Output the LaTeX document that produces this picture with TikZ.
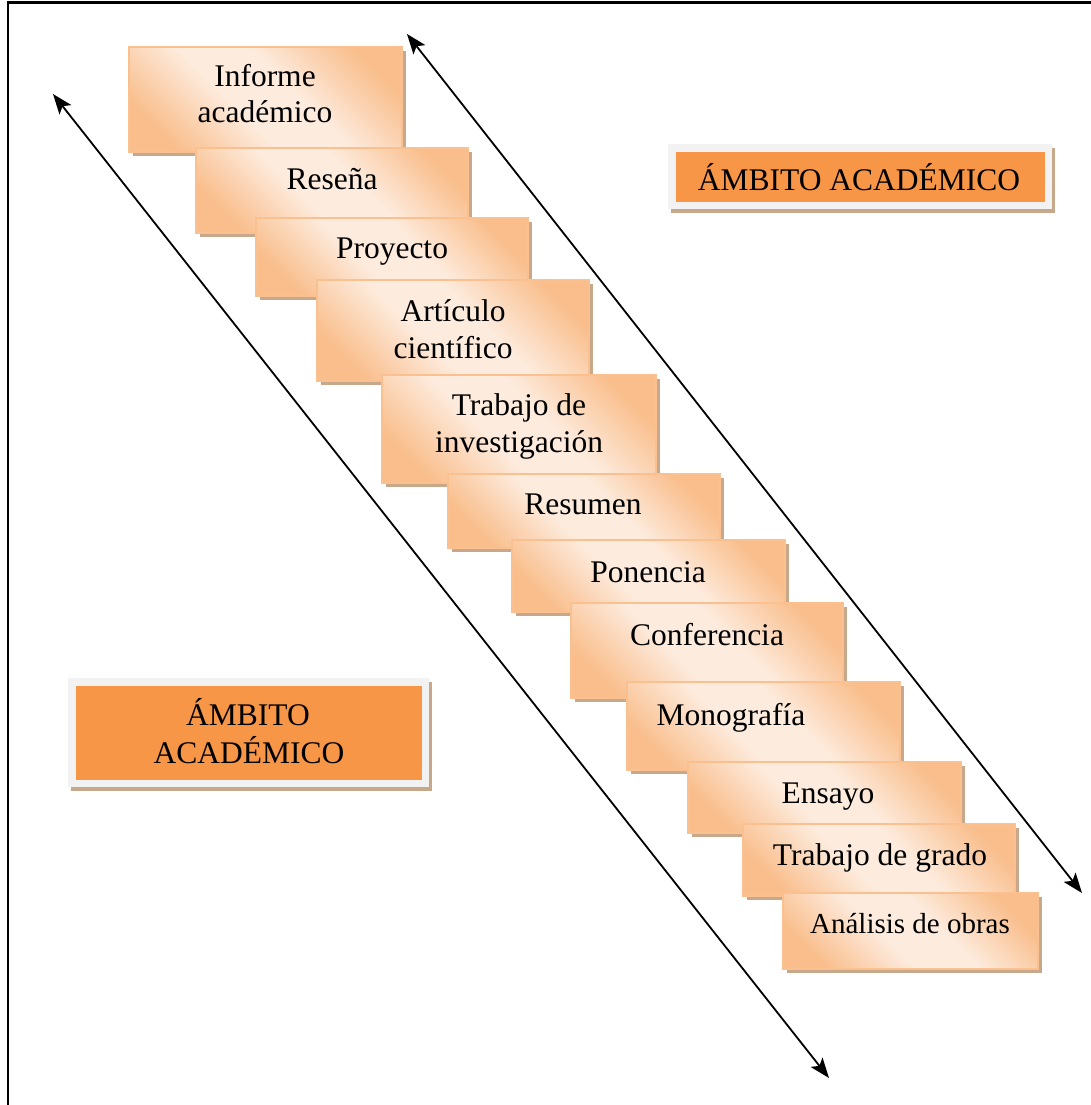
\documentclass[tikz,border=0pt]{standalone}
\usepackage{fontspec}
\setmainfont{Liberation Serif}
\usetikzlibrary{arrows.meta,shadows}

\definecolor{peachdark}{HTML}{F9BE8C}
\definecolor{peachlight}{HTML}{FDEBDD}
\definecolor{peachedge}{HTML}{FAC090}
\definecolor{shadowtan}{RGB}{200,168,138}
\definecolor{labelorange}{HTML}{F79646}
\definecolor{labelframe}{HTML}{F2F2F2}

% diagonal band: darker peach at two corners, light across the middle
\pgfdeclarehorizontalshading{peachband}{100bp}{%
  color(0bp)=(peachdark); color(24bp)=(peachdark);
  color(43bp)=(peachlight); color(57bp)=(peachlight);
  color(76bp)=(peachdark); color(100bp)=(peachdark)}

% one step of the staircase, given by its corners (x1,y1) (x2,y2)
\newcommand\stairbox[5]{%
  \node[stepbox, minimum width={(#4-#2)*1pt}, minimum height={(#5-#3)*1pt}]
    (#1) at ({(#2+#4)/2},{(#3+#5)/2}) {};}

\begin{document}
\begin{tikzpicture}[x=1pt,y=-1pt,
  stepbox/.style={draw=peachedge, line width=1.6pt, shading=peachband,
    shading angle=45, inner sep=0pt,
    general shadow={shadow xshift=4pt, shadow yshift=-4pt, fill=shadowtan}},
  steptext/.style={font=\fontsize{31.5}{36}\selectfont, inner sep=0pt, anchor=base},
  labelbox/.style={fill=labelorange, draw=labelframe, line width=7.5pt, inner sep=0pt,
    general shadow={shadow xshift=3pt, shadow yshift=-4pt, fill=shadowtan,
      draw=shadowtan, line width=7.5pt}},
  conn/.style={line width=1.8pt,
    {Stealth[length=20pt,width=15pt,inset=4.5pt]}-{Stealth[length=20pt,width=15pt,inset=4.5pt]}}]

\useasboundingbox (0,0) rectangle (1091,1105);
\clip (0,0) rectangle (1091,1105);

% page frame (its right and bottom sides lie outside the page)
\draw[line width=2.6pt, line join=miter] (7.8,1120) |- (1120,2.4);

% the two long double-headed arrows
\coordinate (la) at (53,94);
\coordinate (lb) at (829,1078);
\coordinate (ra) at (407,34);
\coordinate (rb) at (1082,893);
\draw[conn] (la) -- (lb);
\draw[conn] (ra) -- (rb);

% staircase of text types
\stairbox{b1}{129}{47}{402}{152}
\node[steptext] (t1a) at (265,87) {Informe};
\node[steptext] (t1b) at (265,123) {académico};

\stairbox{b2}{196}{148}{468}{233}
\node[steptext] (t2) at (332,189) {Reseña};

\stairbox{b3}{256}{218}{528}{296}
\node[steptext] (t3) at (392,258) {Proyecto};

\stairbox{b4}{317}{280}{589}{381}
\node[steptext] (t4a) at (453,321) {Artículo};
\node[steptext] (t4b) at (453,358) {científico};

\stairbox{b5}{382}{375}{656}{483}
\node[steptext] (t5a) at (519,415) {Trabajo de};
\node[steptext] (t5b) at (519,452) {investigación};

\stairbox{b6}{448}{474}{720}{548}
\node[steptext] (t6) at (583,514) {Resumen};

\stairbox{b7}{512}{540}{785}{612}
\node[steptext] (t7) at (648,582) {Ponencia};

\stairbox{b8}{571}{603}{843}{698}
\node[steptext] (t8) at (707,645) {Conferencia};

\stairbox{b9}{627}{682}{900}{770}
\node[steptext] (t9) at (731,725) {Monografía};

\stairbox{b10}{688}{762}{961}{833}
\node[steptext] (t10) at (828,803) {Ensayo};

\stairbox{b11}{743}{824}{1015}{896}
\node[steptext] (t11) at (880,865) {Trabajo de grado};

\stairbox{b12}{783}{893}{1038}{969}
\node[steptext, font=\fontsize{29}{34}\selectfont] (t12) at (910,933) {Análisis de obras};

% orange labels
\node[labelbox, minimum width=376.5pt, minimum height=57.5pt] (lab1) at (860,176.5) {};
\node[steptext] (lab1t) at (859,190) {ÁMBITO ACADÉMICO};

\node[labelbox, minimum width=353.5pt, minimum height=101.5pt] (lab2) at (248.5,732.5) {};
\node[steptext] (lab2a) at (248,725) {ÁMBITO};
\node[steptext] (lab2b) at (249,763) {ACADÉMICO};
\end{tikzpicture}
\end{document}
